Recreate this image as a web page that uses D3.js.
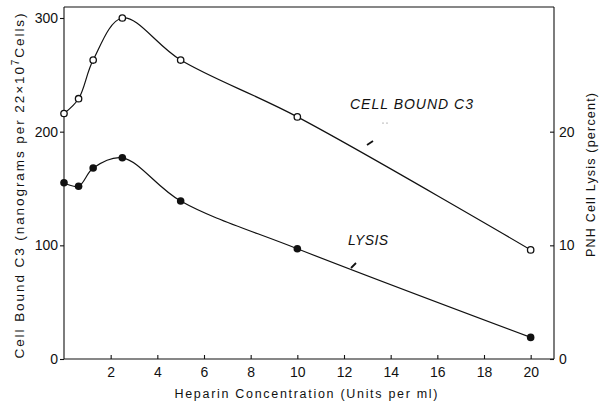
<!DOCTYPE html>
<html><head><meta charset="utf-8">
<script src="https://cdn.jsdelivr.net/npm/d3@7"></script>
<style>
html,body{margin:0;padding:0;background:#fff;}
svg{display:block;}
text{font-family:"Liberation Sans",Arial,sans-serif;fill:#111;}
</style></head>
<body>
<svg id="chart" width="601" height="404"></svg>
<script>
// Data
const heparin = [0, 0.625, 1.25, 2.5, 5, 10, 20];
const cellBoundC3 = [216, 229, 263, 300, 263, 213, 96];      // ng per 22x10^7 cells
const lysisPercent = [15.5, 15.2, 16.8, 17.7, 13.9, 9.7, 1.9]; // percent
const xTicks = [2, 4, 6, 8, 10, 12, 14, 16, 18, 20];
const leftTicks = [0, 100, 200, 300];
const rightTicks = [0, 10, 20];

const svg = d3.select("#chart");
const ink = "#111";

const x = d3.scaleLinear().domain([0, 21]).range([64, 554]);
const yL = d3.scaleLinear().domain([0, 300]).range([359, 18]);
const yR = d3.scaleLinear().domain([0, 30]).range([359, 18]);
const topY = 7;

// Frame
const frame = svg.append("g").attr("stroke", ink).attr("stroke-width", 1.1).attr("fill", "none");
frame.append("line").attr("x1", x(0)).attr("x2", x(0)).attr("y1", topY).attr("y2", yL(0));
frame.append("line").attr("x1", x(21)).attr("x2", x(21)).attr("y1", topY).attr("y2", yL(0));
frame.append("line").attr("x1", x(0)).attr("x2", x(21)).attr("y1", topY).attr("y2", topY);
frame.append("line").attr("x1", x(0)).attr("x2", x(21)).attr("y1", yL(0)).attr("y2", yL(0));

// Axes
function styleAxis(g){
  g.select(".domain").remove();
  g.selectAll(".tick line").attr("stroke", ink).attr("stroke-width", 1.1);
  g.selectAll(".tick text").attr("font-size", 14).attr("font-family", '"Liberation Sans",Arial,sans-serif').attr("fill", ink);
}
svg.append("g").attr("transform", `translate(${x(0)},0)`)
  .call(d3.axisLeft(yL).tickValues(leftTicks).tickSize(4).tickPadding(2))
  .call(styleAxis);
svg.append("g").attr("transform", `translate(0,${yL(0)})`)
  .call(d3.axisBottom(x).tickValues(xTicks).tickSize(-4).tickPadding(8))
  .call(styleAxis);
svg.append("g").attr("transform", `translate(${x(21)},0)`)
  .call(d3.axisRight(yR).tickValues(rightTicks).tickSize(-4).tickPadding(5))
  .call(styleAxis);

// Curves
const cellData = heparin.map((h, i) => ({x: h, y: cellBoundC3[i]}));
const lysisData = heparin.map((h, i) => ({x: h, y: lysisPercent[i]}));
const lineL = d3.line().x(d => x(d.x)).y(d => yL(d.y)).curve(d3.curveCatmullRom.alpha(0.5));
const lineR = d3.line().x(d => x(d.x)).y(d => yR(d.y)).curve(d3.curveCatmullRom.alpha(0.5));
svg.append("path").datum(cellData).attr("d", lineL).attr("fill", "none").attr("stroke", ink).attr("stroke-width", 1.2);
svg.append("path").datum(lysisData).attr("d", lineR).attr("fill", "none").attr("stroke", ink).attr("stroke-width", 1.2);

svg.append("g").selectAll("circle").data(cellData).join("circle")
  .attr("cx", d => x(d.x)).attr("cy", d => yL(d.y)).attr("r", 3.2)
  .attr("fill", "#fff").attr("stroke", ink).attr("stroke-width", 1.3);
svg.append("g").selectAll("circle").data(lysisData).join("circle")
  .attr("cx", d => x(d.x)).attr("cy", d => yR(d.y)).attr("r", 3.8)
  .attr("fill", ink);

// Series labels
svg.append("text").attr("x", 350).attr("y", 109).attr("font-size", 14).attr("font-style", "italic")
  .attr("textLength", 123).attr("lengthAdjust", "spacing").text("CELL BOUND C3");
svg.append("text").attr("x", 348).attr("y", 245).attr("font-size", 14).attr("font-style", "italic")
  .attr("textLength", 40).attr("lengthAdjust", "spacing").text("LYSIS");
// small pointer marks
svg.append("line").attr("x1", 367).attr("y1", 145).attr("x2", 373).attr("y2", 141).attr("stroke", ink).attr("stroke-width", 1.8);
svg.append("line").attr("x1", 351).attr("y1", 268).attr("x2", 356).attr("y2", 263).attr("stroke", ink).attr("stroke-width", 1.8);
svg.append("circle").attr("cx", 383).attr("cy", 123).attr("r", 0.6).attr("fill", "#666");
svg.append("circle").attr("cx", 387).attr("cy", 123).attr("r", 0.6).attr("fill", "#666");

// Axis titles
svg.append("text").attr("x", 306).attr("y", 398).attr("text-anchor", "middle").attr("font-size", 12.5)
  .attr("textLength", 263).attr("lengthAdjust", "spacing").text("Heparin Concentration (Units per ml)");

const lt = svg.append("text").attr("transform", "translate(24,186) rotate(-90)")
  .attr("text-anchor", "middle").attr("font-size", 13.5)
  .attr("textLength", 345).attr("lengthAdjust", "spacing");
lt.append("tspan").text("Cell Bound C3 (nanograms per 22\u00d710");
lt.append("tspan").attr("dy", -5).attr("font-size", 10).text("7");
lt.append("tspan").attr("dy", 5).text("Cells)");

svg.append("text").attr("transform", "translate(595,175) rotate(-90)")
  .attr("text-anchor", "middle").attr("font-size", 12.5)
  .attr("textLength", 164).attr("lengthAdjust", "spacing").text("PNH  Cell Lysis (percent)");
</script>
</body></html>
